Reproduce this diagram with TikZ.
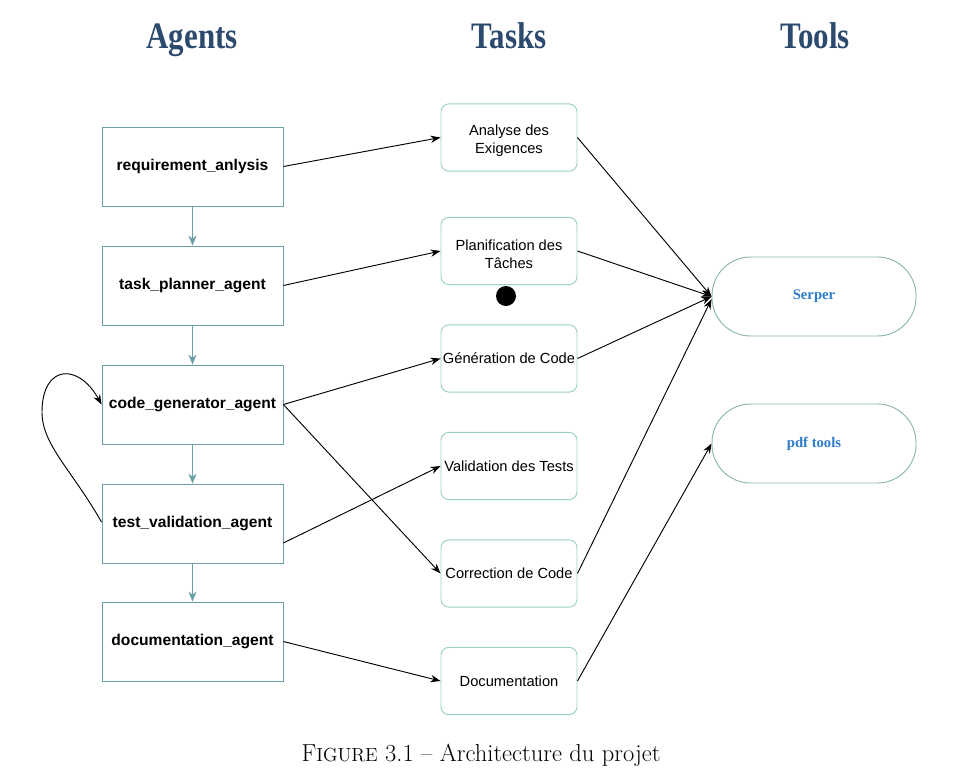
\documentclass[tikz,border=0pt]{standalone}
\usepackage{fontspec}
\newfontfamily\arialf{Liberation Sans}
\newfontfamily\timesf{Liberation Serif}
\usetikzlibrary{arrows.meta,calc}
\definecolor{hdrblue}{HTML}{2C4A6E}
\definecolor{agentc}{HTML}{6A9FA5}
\definecolor{taskc}{HTML}{9ACFC4}
\definecolor{toolc}{HTML}{8AB5B0}
\definecolor{tooltxt}{HTML}{2B7BC9}
\begin{document}
\begin{tikzpicture}[x=0.75pt,y=-0.75pt,
  hdr/.style={font=\timesf\bfseries\fontsize{28}{30}\selectfont, text=hdrblue, anchor=base},
  agentbox/.style={draw=agentc, line width=0.6pt, minimum width=135.75pt, minimum height=59.25pt, inner sep=0pt, font=\arialf\bfseries\fontsize{11.7}{13}\selectfont},
  taskbox/.style={draw=taskc, line width=0.7pt, rounded corners=6pt, minimum width=102pt, minimum height=50.5pt, inner sep=0pt, align=center, font=\arialf\fontsize{11}{13.5}\selectfont},
  toolbox/.style={draw=toolc, line width=0.7pt, rounded corners=29pt, minimum width=153pt, minimum height=59.25pt, inner sep=0pt, font=\timesf\bfseries\fontsize{11}{12}\selectfont, text=tooltxt},
  blk/.style={draw=black, line width=0.7pt, -{Stealth[length=7.5pt,width=5.5pt]}},
  tl/.style={draw=agentc, line width=0.8pt, -{Stealth[length=7.5pt,width=6pt]}}
]
\useasboundingbox (0,0) rectangle (976,783);
% headers
\node[hdr] (hA) at (192,48) {\scalebox{0.83}[1]{Agents}};
\node[hdr] (hT) at (509,48) {\scalebox{0.83}[1]{Tasks}};
\node[hdr] (hL) at (815,48) {\scalebox{0.83}[1]{Tools}};
% agents
\node[agentbox] (ag1) at (192.5,166.5) {requirement\_anlysis};
\node[agentbox] (ag2) at (192.5,285.5) {task\_planner\_agent};
\node[agentbox] (ag3) at (192.5,404.5) {code\_generator\_agent};
\node[agentbox] (ag4) at (192.5,523.5) {test\_validation\_agent};
\node[agentbox] (ag5) at (192.5,641.5) {documentation\_agent};
% tasks
\node[taskbox] (t1) at (509,137.5) {\rule{0pt}{12.5pt}Analyse des\\Exigences};
\node[taskbox] (t2) at (509,251) {\rule{0pt}{12.5pt}Planification des\\T\^aches};
\node[taskbox] (t3) at (509,358.5) {G\'en\'eration de Code};
\node[taskbox] (t4) at (509,466) {Validation des Tests};
\node[taskbox] (t5) at (509,573.5) {Correction de Code};
\node[taskbox] (t6) at (509,681) {Documentation};
% tools
\node[toolbox] (serper) at (814,296.5) {Serper};
\node[toolbox] (pdf) at (814,443.5) {pdf tools};
% dot
\fill[black] (506,296) circle (7.5pt) coordinate (dot);
% agent chain
\draw[tl] (ag1) -- (ag2);
\draw[tl] (ag2) -- (ag3);
\draw[tl] (ag3) -- (ag4);
\draw[tl] (ag4) -- (ag5);
% agent to task
\draw[blk] (ag1.east) -- (t1.west);
\draw[blk] (ag2.east) -- (t2.west);
\draw[blk] (ag3.east) -- (t3.west);
\draw[blk] (ag3.east) -- (t5.west);
\draw[blk] ([yshift=-14.6pt]ag4.east) -- (t4.west);
\draw[blk] (ag5.east) -- (t6.west);
% task to tools
\draw[blk] (t1.east) -- (serper.west);
\draw[blk] (t2.east) -- (serper.west);
\draw[blk] (t3.east) -- (serper.west);
\draw[blk] (t5.east) -- ([yshift=-2pt]serper.west);
\draw[blk] (t6.east) -- (pdf.west);
% self loop
\draw[blk] ([yshift=1pt]ag4.west) .. controls (72,470) and (42,445) .. (42,412)
  .. controls (42,365) and (78,362) .. (ag3.west);
% caption
\node[font=\fontsize{18.4}{21}\selectfont] (cap) at (481,755) {F{\fontsize{14.2}{16}\selectfont IGURE} 3.1 -- Architecture du projet};
\end{tikzpicture}
\end{document}
